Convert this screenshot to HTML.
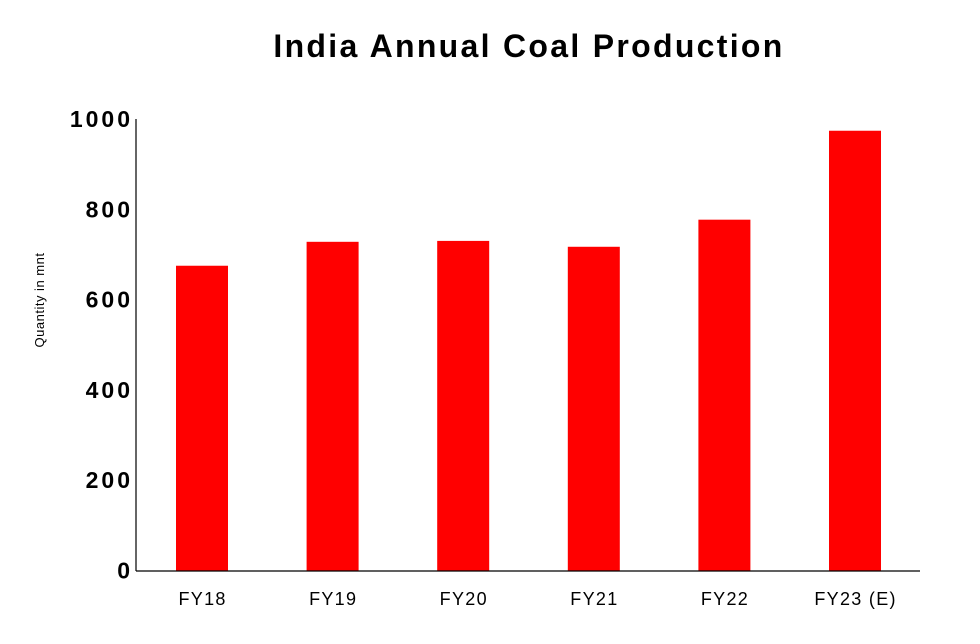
<!DOCTYPE html>
<html><head><meta charset="utf-8"><style>
body{margin:0;background:#fff;font-family:"Liberation Sans",sans-serif}
</style></head><body>
<svg id="chart" width="980" height="639" xmlns="http://www.w3.org/2000/svg">
<text x="529" y="57" text-anchor="middle" font-size="32" font-weight="bold" letter-spacing="2.3" fill="#000">India Annual Coal Production</text>
<text transform="translate(44,300) rotate(-90)" text-anchor="middle" font-size="13" letter-spacing="0.5" fill="#000">Quantity in mnt</text>
<g id="bars"></g><g id="yticks"></g><g id="xlabels"></g>
<line x1="136" y1="119" x2="136" y2="571" stroke="#000" stroke-width="1.2"/>
<line x1="136" y1="571" x2="920" y2="571" stroke="#000" stroke-width="1.2"/>
</svg>
<script>
const categories=["FY18","FY19","FY20","FY21","FY22","FY23 (E)"];
const values=[675,728,730,717,777,974];
const yTicks=[0,200,400,600,800,1000];
const NS="http://www.w3.org/2000/svg";
const y0=570.5,yScale=0.4515;
function y(v){return y0-v*yScale;}
function xc(i){return 202+i*130.6;}
const bw=52;
const bars=document.getElementById('bars'),yt=document.getElementById('yticks'),xl=document.getElementById('xlabels');
values.forEach((v,i)=>{
 const r=document.createElementNS(NS,'rect');
 
 
 r.setAttribute('x',xc(i)-bw/2);r.setAttribute('y',y(v));
 r.setAttribute('width',bw);r.setAttribute('height',y0-y(v));
 r.setAttribute('fill','#ff0000');bars.appendChild(r);
 const t=document.createElementNS(NS,'text');
 
 
 t.setAttribute('x',xc(i)+0.6);t.setAttribute('y',605);t.setAttribute('text-anchor','middle');
 t.setAttribute('font-size','18');t.setAttribute('letter-spacing','1.3');t.textContent=categories[i];xl.appendChild(t);
});
yTicks.forEach(v=>{
 const t=document.createElementNS(NS,'text');
 
 
 t.setAttribute('x',133);t.setAttribute('y',y(v)+8);t.setAttribute('text-anchor','end');
 t.setAttribute('font-size','23');t.setAttribute('font-weight','bold');t.setAttribute('letter-spacing','3');t.textContent=v;yt.appendChild(t);
});
</script>
</body></html>
